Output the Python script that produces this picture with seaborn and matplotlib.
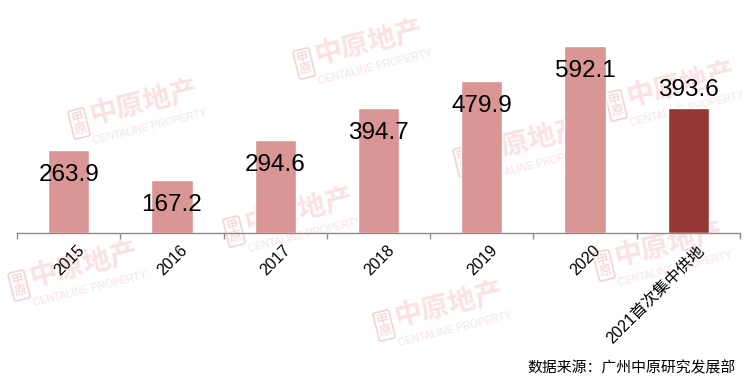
import matplotlib
matplotlib.use("Agg")
import matplotlib.pyplot as plt
import matplotlib.transforms as mtransforms
import seaborn as sns
import pandas as pd

categories = ["2015", "2016", "2017", "2018", "2019", "2020", "2021首次集中供地"]
values = [263.9, 167.2, 294.6, 394.7, 479.9, 592.1, 393.6]
value_labels = ["263.9", "167.2", "294.6", "394.7", "479.9", "592.1", "393.6"]
label_inside = [True, True, True, True, True, True, False]
light, dark = "#DA9694", "#953735"
bar_colors = [light] * 6 + [dark]
source_text = "数据来源：广州中原研究发展部"

W, H = 746, 386
DPI = 100
sns.set_theme(style="white")
plt.rcParams["font.family"] = ["Liberation Sans", "Noto Sans CJK SC", "DejaVu Sans"]

fig = plt.figure(figsize=(W / DPI, H / DPI), dpi=DPI)
fig.patch.set_facecolor("white")

# watermarks (behind the chart)
wm_color = "#FBE2E2"
wm_centers = [(135, 110), (360, 50), (672, 92), (520, 148),
              (290, 218), (75, 272), (440, 312), (660, 252)]
for cx, cy in wm_centers:
    fx, fy = cx / W, 1 - cy / H
    fig.text(fx + 0.012, fy + 0.02, "中原地产", fontsize=20, fontweight="bold",
             color=wm_color, rotation=14, ha="center", va="center",
             family=["Noto Sans CJK SC"], zorder=-2)
    fig.text(fx + 0.02, fy - 0.045, "CENTALINE PROPERTY", fontsize=7.5,
             color=wm_color, rotation=14, ha="center", va="center", zorder=-2)
    fig.text(fx - 0.075, fy - 0.035, "甲\n原", fontsize=9, linespacing=0.9,
             color="#F7CFCF", rotation=14, ha="center", va="center",
             family=["Noto Sans CJK SC"], zorder=-2,
             bbox=dict(boxstyle="round,pad=0.15", fc="none", ec="#F7D2D2", lw=1.2))

ax_left, ax_right = 17 / W, 740 / W
ax_bottom = (H - 233) / H
ax_top = (H - 20) / H
ax = fig.add_axes([ax_left, ax_bottom, ax_right - ax_left, ax_top - ax_bottom])
ax.patch.set_alpha(0)

df = pd.DataFrame({"cat": categories, "val": values})
sns.barplot(data=df, x="cat", y="val", hue="cat", palette=bar_colors,
            width=0.4, legend=False, ax=ax, saturation=1)

ax.set_xlim(-0.5, len(categories) - 0.5)
ax.set_ylim(0, 592.1 * 213 / 187.3)

for i, (v, lab, inside) in enumerate(zip(values, value_labels, label_inside)):
    off = -31 if inside else 12
    ax.annotate(lab, (i, v), xytext=(0, off), textcoords="offset pixels",
                ha="center", va="baseline", fontsize=17.5, color="black")

for s in ["top", "right", "left"]:
    ax.spines[s].set_visible(False)
ax.spines["bottom"].set_color("#8C8C8C")
ax.spines["bottom"].set_linewidth(1.0)
ax.set_yticks([])
ax.set_xlabel("")
ax.set_ylabel("")

ax.set_xticks(range(len(categories)))
ax.set_xticklabels(categories, rotation=45, ha="right", va="top",
                   rotation_mode="anchor", fontsize=11.5, color="black")
ax.tick_params(axis="x", which="major", length=0, pad=10)
shift = mtransforms.ScaledTranslation(8 / DPI, 4 / DPI, fig.dpi_scale_trans)
for t in ax.get_xticklabels():
    t.set_transform(t.get_transform() + shift)
ax.set_xticks([i - 0.5 for i in range(len(categories) + 1)], minor=True)
ax.tick_params(axis="x", which="minor", length=4, width=1, color="#8C8C8C",
               direction="out", bottom=True)

fig.text(736 / W, 1 - 368 / H, source_text, fontsize=10.7, ha="right", va="center",
         color="black", family=["Noto Sans CJK SC"])

fig.savefig("out.png", dpi=DPI)
